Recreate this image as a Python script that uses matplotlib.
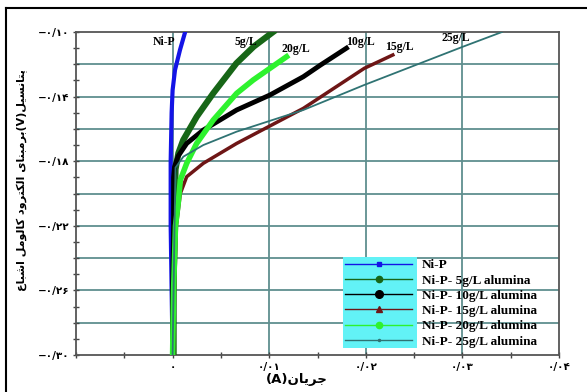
import matplotlib
matplotlib.use('Agg')
import matplotlib.pyplot as plt
from matplotlib.lines import Line2D
from matplotlib.patches import Rectangle
from matplotlib.ticker import MultipleLocator, FixedLocator

# polarisation curves: current (A) vs potential (V) against SCE
nip_x = [0.0, -0.0001, -0.0002, -0.0002, -0.0001, 0.0, 0.00025, 0.00077, 0.0013]
nip_y = [-0.30, -0.26, -0.22, -0.18, -0.15, -0.136, -0.1235, -0.111, -0.100]

a5_x = [0.0001, 0.0001, 0.0002, 0.0003, 0.0006, 0.0011, 0.0025, 0.0042, 0.0066, 0.0084, 0.0104]
a5_y = [-0.30, -0.26, -0.22, -0.185, -0.175, -0.1669, -0.1524, -0.138, -0.1194, -0.109, -0.100]

a10_x = [0.0, 0.0, 0.0001, 0.0001, 0.0002, 0.00056, 0.00146, 0.00318, 0.00663, 0.01008, 0.01353, 0.0153, 0.0180]
a10_y = [-0.30, -0.26, -0.22, -0.19, -0.1835, -0.177, -0.169, -0.1607, -0.1483, -0.139, -0.1277, -0.1205, -0.110]

a15_x = [0.0001, 0.0002, 0.0004, 0.0008, 0.00146, 0.00318, 0.00663, 0.01353, 0.01984, 0.0228]
a15_y = [-0.30, -0.26, -0.22, -0.200, -0.1896, -0.1813, -0.169, -0.1473, -0.1225, -0.1142]

a20_x = [0.0, 0.0001, 0.0003, 0.0006, 0.0008, 0.00146, 0.00249, 0.00421, 0.00663, 0.00835, 0.0118]
a20_y = [-0.30, -0.26, -0.22, -0.205, -0.1916, -0.1813, -0.169, -0.1545, -0.138, -0.1297, -0.1153]

a25_x = [0.0, 0.0001, 0.0002, 0.0003, 0.00111, 0.00318, 0.00663, 0.01353, 0.01984, 0.0301, 0.0341]
a25_y = [-0.30, -0.26, -0.22, -0.184, -0.1772, -0.170, -0.1617, -0.1483, -0.1328, -0.109, -0.100]

legend_labels = ['Ni-P', 'Ni-P- 5g/L alumina', 'Ni-P- 10g/L alumina',
                 'Ni-P- 15g/L alumina', 'Ni-P- 20g/L alumina', 'Ni-P- 25g/L alumina']
curve_tags = ['Ni-P', '5g/L', '10g/L', '15g/L', '20g/L', '25g/L']
tag_x = [-0.0009, 0.0076, 0.0194, 0.0235, 0.0128, 0.0293]
tag_y = [-0.1062, -0.1062, -0.1060, -0.1090, -0.1105, -0.1037]

y_ticks = [-0.30, -0.26, -0.22, -0.18, -0.14, -0.10]
y_ticklabels = ['−۰/۳۰', '−۰/۲۶', '−۰/۲۲', '−۰/۱۸', '−۰/۱۴', '−۰/۱۰']
x_ticks = [0.0, 0.01, 0.02, 0.03, 0.04]
x_ticklabels = ['۰', '۰/۰۱', '۰/۰۲', '۰/۰۳', '۰/۰۴']

# contextual forms (isolated, final, initial, medial) for the letters used
FORMS = {
    'ا': ('\uFE8D', '\uFE8E', None, None),
    'ب': ('\uFE8F', '\uFE90', '\uFE91', '\uFE92'),
    'پ': ('\uFB56', '\uFB57', '\uFB58', '\uFB59'),
    'ت': ('\uFE95', '\uFE96', '\uFE97', '\uFE98'),
    'ج': ('\uFE9D', '\uFE9E', '\uFE9F', '\uFEA0'),
    'د': ('\uFEA9', '\uFEAA', None, None),
    'ر': ('\uFEAD', '\uFEAE', None, None),
    'س': ('\uFEB1', '\uFEB2', '\uFEB3', '\uFEB4'),
    'ش': ('\uFEB5', '\uFEB6', '\uFEB7', '\uFEB8'),
    'ع': ('\uFEC9', '\uFECA', '\uFECB', '\uFECC'),
    'ک': ('\uFB8E', '\uFB8F', '\uFB90', '\uFB91'),
    'ل': ('\uFEDD', '\uFEDE', '\uFEDF', '\uFEE0'),
    'م': ('\uFEE1', '\uFEE2', '\uFEE3', '\uFEE4'),
    'ن': ('\uFEE5', '\uFEE6', '\uFEE7', '\uFEE8'),
    'و': ('\uFEED', '\uFEEE', None, None),
    'ی': ('\uFBFC', '\uFBFD', '\uFBFE', '\uFBFF'),
}


def farsi(text):
    out = []
    for i, ch in enumerate(text):
        if ch not in FORMS:
            out.append(ch)
            continue
        prev = text[i - 1] if i > 0 else ''
        nxt = text[i + 1] if i + 1 < len(text) else ''
        iso, fin, ini, med = FORMS[ch]
        join_prev = prev in FORMS and FORMS[prev][2] is not None
        join_next = nxt in FORMS and ini is not None
        if join_prev and join_next:
            out.append(med)
        elif join_prev:
            out.append(fin)
        elif join_next:
            out.append(ini)
        else:
            out.append(iso)
    vis = ''.join(reversed(out))
    return vis.translate(str.maketrans('()', ')('))


fig = plt.figure(figsize=(5.87, 3.92), dpi=100)
ax = fig.add_axes([76 / 587, 37 / 392, 483 / 587, 323 / 392])

ax.add_patch(Rectangle((0.01764, -0.2957), 0.00766, 0.0564, facecolor='#62f2f6',
                       edgecolor='none', zorder=2.5))

ax.plot(nip_x, nip_y, color='#1414e6', lw=3, zorder=3)
ax.plot(a5_x, a5_y, color='#176617', lw=4.5, zorder=3)
ax.plot(a10_x, a10_y, color='black', lw=3.5, zorder=3)
ax.plot(a15_x, a15_y, color='#6e1616', lw=2.5, zorder=3)
ax.plot(a20_x, a20_y, color='#2ef22e', lw=4, zorder=3)
ax.plot(a25_x, a25_y, color='#2f7373', lw=1.3, zorder=3)

for t, tx, ty in zip(curve_tags, tag_x, tag_y):
    ax.text(tx, ty, t, ha='center', va='center', fontsize=8.5, fontweight='bold',
            family='Liberation Serif', zorder=4)

ax.set_xlim(-0.01, 0.04)
ax.set_ylim(-0.30, -0.10)

ax.xaxis.set_major_locator(FixedLocator(x_ticks))
ax.set_xticklabels(x_ticklabels)
ax.xaxis.set_minor_locator(MultipleLocator(0.005))
ax.yaxis.set_major_locator(FixedLocator(y_ticks))
ax.set_yticklabels(y_ticklabels)
ax.yaxis.set_minor_locator(MultipleLocator(0.01))
for lab in ax.get_xticklabels() + ax.get_yticklabels():
    lab.set_fontweight('bold')
    lab.set_fontfamily('DejaVu Sans')
    lab.set_fontsize(7.5)
ax.tick_params(which='both', direction='inout', length=4, width=1, color='#444444', pad=3)

for y in [-0.28, -0.26, -0.24, -0.22, -0.20, -0.18, -0.16, -0.14, -0.12]:
    ax.axhline(y, color='#5f8f8f', lw=1.3, zorder=1)
for x in [0.0, 0.01, 0.02, 0.03]:
    ax.axvline(x, color='#5f8f8f', lw=1.3, zorder=1)

for side in ['left', 'bottom', 'right', 'top']:
    ax.spines[side].set_color('#555555')
    ax.spines[side].set_linewidth(1.3)

handles = [
    Line2D([], [], color='#1414e6', lw=1, marker='s', ms=3),
    Line2D([], [], color='#176617', lw=1, marker='o', ms=4.5),
    Line2D([], [], color='black', lw=1, marker='o', ms=5.5),
    Line2D([], [], color='#6e1616', lw=1, marker='^', ms=4.5),
    Line2D([], [], color='#2ef22e', lw=1, marker='o', ms=4.5),
    Line2D([], [], color='#2f7373', lw=1, marker='.', ms=3),
]
leg = ax.legend(handles, legend_labels, loc='upper left', bbox_to_anchor=(0.557, 0.297),
                frameon=False, borderpad=0, borderaxespad=0, handlelength=5.1,
                handletextpad=0.75, labelspacing=0.23,
                prop={'family': 'Liberation Serif', 'weight': 'bold', 'size': 9.5})
leg.set_zorder(5)

fig.text(22 / 587, 1 - 180 / 392, farsi('پتانسیل(V)برمبنای الکترود کالومل اشباع'),
         rotation=90, ha='center', va='center', fontsize=8, fontweight='bold',
         family='DejaVu Sans')
fig.text(297 / 587, 1 - 380 / 392, farsi('جریان(A)'), ha='center', va='center',
         fontsize=9.5, fontweight='bold', family='DejaVu Sans')

# frame around the figure
fig.add_artist(Line2D([6 / 587, 1.0], [1 - 8 / 392, 1 - 8 / 392], color='black', lw=1.5))
fig.add_artist(Line2D([6 / 587, 6 / 587], [0.0, 1 - 8 / 392], color='black', lw=1.5))

fig.savefig('out.png', dpi=100)
